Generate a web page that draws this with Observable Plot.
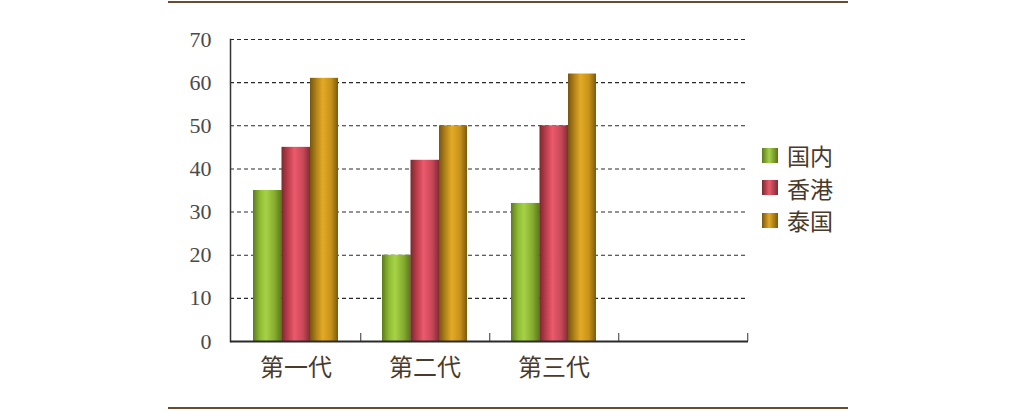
<!DOCTYPE html>
<html>
<head>
<meta charset="utf-8">
<script src="https://cdn.jsdelivr.net/npm/d3@7"></script>
<script src="https://cdn.jsdelivr.net/npm/@observablehq/plot@0.6"></script>
<style>
  html, body { margin: 0; padding: 0; background: #ffffff; }
  #wrap { position: relative; width: 1013px; height: 420px; overflow: hidden; }
  #wrap svg { position: absolute; left: 0; top: 0; }
  .hr { position: absolute; left: 168px; width: 680px; height: 2px; background: #6b4c2e; }
  #legend { position: absolute; left: 762px; top: 139px; font-family: "Noto Sans CJK SC", sans-serif; font-size: 23px; color: #4a3a2a; }
  #legend .item { display: flex; align-items: center; height: 32.5px; }
  #legend .sw { width: 16px; height: 15px; margin-right: 9px; }
</style>
</head>
<body>
<div id="wrap">
  <div class="hr" style="top:1px"></div>
  <div class="hr" style="top:407px"></div>
  <div id="legend"></div>
</div>
<script>
// ---- data ----
const generations = ["第一代", "第二代", "第三代", ""];
const seriesNames = ["国内", "香港", "泰国"];
const domestic = [35, 20, 32];
const hongkong = [45, 42, 50];
const thailand = [61, 50, 62];
const yTicks = [0, 10, 20, 30, 40, 50, 60, 70];

// ---- styles ----
const gradients = [
  ["#5e7a1c", "#8fbd34", "#a6d246", "#86ac30", "#5a741a"],
  ["#7a2830", "#c4404f", "#ea5a6c", "#c84858", "#7e2a34"],
  ["#76560e", "#b8861a", "#e2aa24", "#c8921c", "#7a5a10"]
];
const W = 1013, H = 420, ML = 230, MR = 265, MT = 39, MB = 79;
const step = (W - ML - MR) / generations.length;
const barW = 28.5;
const offset = (step - barW * seriesNames.length) / 2;

const seriesValues = [domestic, hongkong, thailand];
const barMarks = seriesValues.map((vals, i) =>
  Plot.barY(vals.map((v, j) => ({gen: generations[j], value: v})), {
    x: "gen",
    y: "value",
    fill: `url(#grad${i})`,
    insetLeft: offset + i * barW,
    insetRight: step - offset - (i + 1) * barW - (i < seriesNames.length - 1 ? 0.8 : 0)
  })
);

const svg = Plot.plot({
  width: W,
  height: H,
  marginLeft: ML,
  marginRight: MR,
  marginTop: MT,
  marginBottom: MB,
  style: {background: "transparent", overflow: "visible"},
  x: {domain: generations, padding: 0},
  y: {domain: [0, 70]},
  marks: [
    Plot.gridY(yTicks.filter(d => d > 0), {stroke: "#2a2a2a", strokeOpacity: 1, strokeWidth: 1.1, strokeDasharray: "4,3"}),
    ...barMarks,
    Plot.frame({anchor: "left", stroke: "#333", strokeWidth: 1.5}),
    Plot.ruleY([0], {stroke: "#2a2a2a", strokeWidth: 2}),
    Plot.axisY({ticks: yTicks, tickSize: 0, tickPadding: 19, label: null, fontSize: 22,
      fontFamily: "Liberation Serif, serif", fill: "#4a4a4a"}),
    Plot.axisX({tickSize: 0, tickPadding: 17, label: null, fontSize: 24,
      fontFamily: "Noto Sans CJK SC, sans-serif", fill: "#4a3c2c"}),
    Plot.axisX({tickSize: -8, dx: step / 2, label: null, tickFormat: () => "", stroke: "#333"})
  ]
});

const ns = "http://www.w3.org/2000/svg";
const defs = document.createElementNS(ns, "defs");
defs.innerHTML = gradients.map((g, i) =>
  `<linearGradient id="grad${i}" x1="0" x2="1" y1="0" y2="0">` +
  g.map((c, k) => `<stop offset="${[0, 0.25, 0.45, 0.75, 1][k]}" stop-color="${c}"/>`).join("") +
  `</linearGradient>`).join("");
svg.prepend(defs);
document.getElementById("wrap").prepend(svg);

const legend = document.getElementById("legend");
seriesNames.forEach((name, i) => {
  const item = document.createElement("div");
  item.className = "item";
  const sw = document.createElement("div");
  sw.className = "sw";
  sw.style.background = `linear-gradient(to right, ${gradients[i][0]}, ${gradients[i][2]} 45%, ${gradients[i][4]})`;
  const t = document.createElement("span");
  t.textContent = name;
  item.appendChild(sw);
  item.appendChild(t);
  legend.appendChild(item);
});
</script>
</body>
</html>
